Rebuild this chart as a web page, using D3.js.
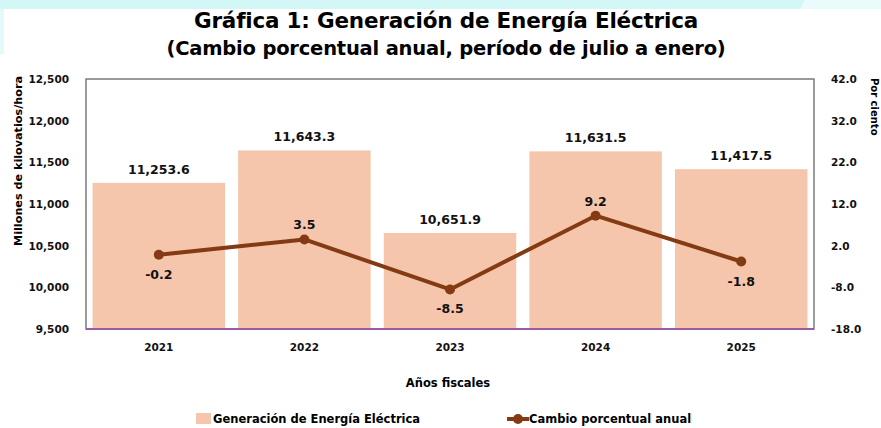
<!DOCTYPE html>
<html>
<head>
<meta charset="utf-8">
<script src="https://cdn.jsdelivr.net/npm/d3@7"></script>
<style>
  body { margin: 0; background: #fff; }
  svg { display: block; font-family: "DejaVu Sans", sans-serif; font-weight: 700; }
  .tick text { font-family: "DejaVu Sans", sans-serif; font-weight: 700; }
</style>
</head>
<body>
<script>
(function(){
//chart data
var years = ["2021", "2022", "2023", "2024", "2025"];
var generation = [11253.6, 11643.3, 10651.9, 11631.5, 11417.5]; //millones de kWh
var pctChange = [-0.2, 3.5, -8.5, 9.2, -1.8]; //cambio porcentual anual
var leftTicks = [9500, 10000, 10500, 11000, 11500, 12000, 12500];
var rightTicks = [-18, -8, 2, 12, 22, 32, 42];
var labelAbove = [false, true, false, true, false]; //where the % label goes

window.onload = drawChart();

function drawChart(){
    var width = 881,
        height = 428;

    var svg = d3.select("body")
        .append("svg")
        .attr("width", width)
        .attr("height", height);

    //light background band at top
    svg.append("rect")
        .attr("x", 0).attr("y", 0)
        .attr("width", width).attr("height", 9)
        .attr("fill", "#d3f6f6");
    svg.append("path")
        .attr("d", "M805,0 L881,0 L881,9 L800,9 Z")
        .attr("fill", "#eafbfb");
    svg.append("rect")
        .attr("x", 0).attr("y", 9)
        .attr("width", 4).attr("height", 45)
        .attr("fill", "#e4fafa");

    //titles
    svg.append("text")
        .attr("x", 446).attr("y", 28)
        .attr("text-anchor", "middle")
        .style("font-size", "21.5px")
        .style("letter-spacing", "-0.2px")
        .text("Gráfica 1: Generación de Energía Eléctrica");
    svg.append("text")
        .attr("x", 446).attr("y", 55)
        .attr("text-anchor", "middle")
        .style("font-size", "19.5px")
        .style("letter-spacing", "-0.2px")
        .text("(Cambio porcentual anual, período de julio a enero)");

    var plot = {left: 86, right: 814, top: 79, bottom: 329};

    var x = d3.scaleBand()
        .domain(years)
        .range([plot.left, plot.right])
        .paddingInner(0.09)
        .paddingOuter(0.045);

    var yLeft = d3.scaleLinear()
        .domain([9500, 12500])
        .range([plot.bottom, plot.top]);

    var yRight = d3.scaleLinear()
        .domain([-18, 42])
        .range([plot.bottom, plot.top]);

    //plot frame
    svg.append("rect")
        .attr("x", plot.left).attr("y", plot.top)
        .attr("width", plot.right - plot.left)
        .attr("height", plot.bottom - plot.top)
        .attr("fill", "none")
        .attr("stroke", "#7a7a7a")
        .attr("stroke-width", 1.5);

    //bars
    svg.selectAll(".bar")
        .data(generation)
        .enter()
        .append("rect")
        .attr("class", "bar")
        .attr("x", function(d, i){ return x(years[i]); })
        .attr("y", function(d){ return yLeft(d); })
        .attr("width", x.bandwidth())
        .attr("height", function(d){ return yLeft(9500) - yLeft(d); })
        .attr("fill", "#f5c6ab");

    //bottom axis line
    svg.append("line")
        .attr("x1", plot.left).attr("x2", plot.right)
        .attr("y1", plot.bottom).attr("y2", plot.bottom)
        .attr("stroke", "#9b5b9e")
        .attr("stroke-width", 2);

    //bar value labels
    svg.selectAll(".barLabel")
        .data(generation)
        .enter()
        .append("text")
        .attr("class", "barLabel")
        .attr("x", function(d, i){ return x(years[i]) + x.bandwidth() / 2; })
        .attr("y", function(d){ return yLeft(d) - 9; })
        .attr("text-anchor", "middle")
        .style("font-size", "12.5px")
        .style("fill", "#111")
        .text(function(d){ return d3.format(",.1f")(d); });

    //left axis
    var leftAxis = svg.append("g")
        .attr("transform", "translate(" + (plot.left - 14) + ",0)")
        .call(d3.axisLeft(yLeft).tickValues(leftTicks).tickFormat(d3.format(",")).tickSize(0));
    leftAxis.select(".domain").remove();
    leftAxis.selectAll("text")
        .style("font-size", "10.5px")
        .attr("fill", "#111");

    //right axis
    var rightAxis = svg.append("g")
        .attr("transform", "translate(" + (plot.right + 14) + ",0)")
        .call(d3.axisRight(yRight).tickValues(rightTicks).tickFormat(d3.format(".1f")).tickSize(0));
    rightAxis.select(".domain").remove();
    rightAxis.selectAll("text")
        .style("font-size", "10.5px")
        .attr("fill", "#111")
        .text(function(d){ return d3.format(".1f")(d).replace("−", "-"); });

    //x axis labels
    var bottomAxis = svg.append("g")
        .attr("transform", "translate(0," + (plot.bottom + 12) + ")")
        .call(d3.axisBottom(x).tickSize(0));
    bottomAxis.select(".domain").remove();
    bottomAxis.selectAll("text")
        .style("font-size", "10.5px")
        .attr("fill", "#111");

    //axis titles
    svg.append("text")
        .attr("transform", "translate(22,161) rotate(-90)")
        .attr("text-anchor", "middle")
        .style("font-size", "11.2px")
        .text("Millones de kilovatios/hora");
    svg.append("text")
        .attr("transform", "translate(871,78) rotate(90)")
        .attr("text-anchor", "start")
        .style("font-size", "10px")
        .text("Por ciento");
    svg.append("text")
        .attr("x", 448).attr("y", 387)
        .attr("text-anchor", "middle")
        .style("font-size", "11.5px")
        .text("Años fiscales");

    //line series
    var line = d3.line()
        .x(function(d, i){ return x(years[i]) + x.bandwidth() / 2; })
        .y(function(d){ return yRight(d); });

    svg.append("path")
        .datum(pctChange)
        .attr("d", line)
        .attr("fill", "none")
        .attr("stroke", "#843a12")
        .attr("stroke-width", 4)
        .attr("stroke-linejoin", "round");

    svg.selectAll(".dot")
        .data(pctChange)
        .enter()
        .append("circle")
        .attr("class", "dot")
        .attr("cx", function(d, i){ return x(years[i]) + x.bandwidth() / 2; })
        .attr("cy", function(d){ return yRight(d); })
        .attr("r", 5)
        .attr("fill", "#843a12");

    svg.selectAll(".pctLabel")
        .data(pctChange)
        .enter()
        .append("text")
        .attr("class", "pctLabel")
        .attr("x", function(d, i){ return x(years[i]) + x.bandwidth() / 2; })
        .attr("y", function(d, i){ return yRight(d) + (labelAbove[i] ? -10 : 24); })
        .attr("text-anchor", "middle")
        .style("font-size", "12.5px")
        .style("fill", "#111")
        .text(function(d){ return d3.format(".1f")(d).replace("−", "-"); });

    //legend
    var legend = svg.append("g");
    legend.append("rect")
        .attr("x", 196).attr("y", 413)
        .attr("width", 15).attr("height", 11)
        .attr("fill", "#f5c6ab");
    legend.append("text")
        .attr("x", 213).attr("y", 423)
        .style("font-size", "11.5px")
        .text("Generación de Energía Eléctrica");
    legend.append("line")
        .attr("x1", 507).attr("x2", 529)
        .attr("y1", 419).attr("y2", 419)
        .attr("stroke", "#843a12")
        .attr("stroke-width", 4);
    legend.append("circle")
        .attr("cx", 518).attr("cy", 419)
        .attr("r", 5)
        .attr("fill", "#843a12");
    legend.append("text")
        .attr("x", 529).attr("y", 423)
        .style("font-size", "11.5px")
        .text("Cambio porcentual anual");
};
})();
</script>
</body>
</html>
